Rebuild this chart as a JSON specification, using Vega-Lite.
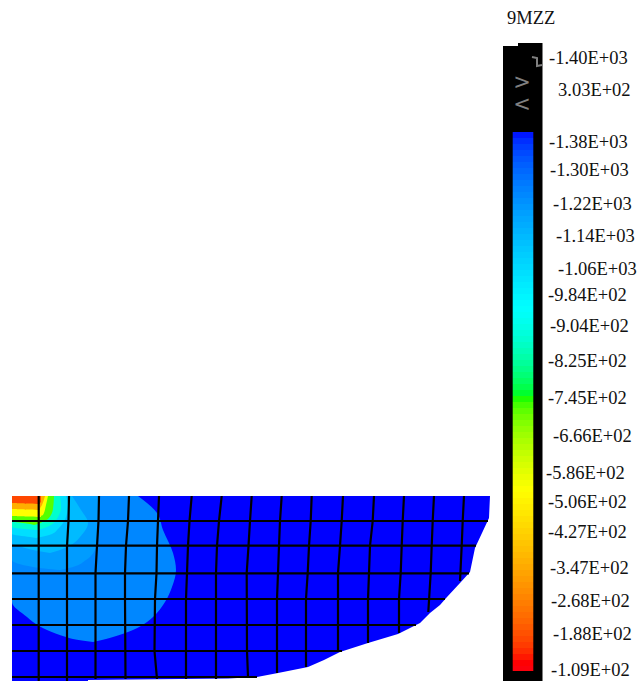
{"$schema":"https://vega.github.io/schema/vega-lite/v6.json","width":642,"height":681,"padding":0,"autosize":{"type":"none"},"background":"white","config":{"view":{"stroke":null}},
"datasets":{
"outline":[
{"b":"a0","v":-1380,"y":496,"l":12,"r":490},{"b":"a0","v":-1380,"y":518,"l":12,"r":489},{"b":"a0","v":-1380,"y":533,"l":12,"r":482},{"b":"a0","v":-1380,"y":548,"l":12,"r":475},{"b":"a0","v":-1380,"y":572,"l":12,"r":470},{"b":"a0","v":-1380,"y":583,"l":12,"r":460},{"b":"a0","v":-1380,"y":597,"l":12,"r":447},{"b":"a0","v":-1380,"y":605,"l":12,"r":440},{"b":"a0","v":-1380,"y":613,"l":12,"r":430},{"b":"a0","v":-1380,"y":623,"l":12,"r":420},{"b":"a0","v":-1380,"y":634,"l":12,"r":398},{"b":"a0","v":-1380,"y":643,"l":12,"r":368},{"b":"a0","v":-1380,"y":652,"l":12,"r":340},{"b":"a0","v":-1380,"y":660,"l":12,"r":324},{"b":"a0","v":-1380,"y":667,"l":12,"r":308},{"b":"a0","v":-1380,"y":673,"l":12,"r":278},{"b":"a0","v":-1380,"y":677,"l":12,"r":257},{"b":"a0","v":-1380,"y":678.5,"l":12,"r":228},{"b":"a0","v":-1380,"y":680,"l":12,"r":88},{"b":"a0","v":-1380,"y":681,"l":12,"r":88}
],
"contours":[
{"b":"a1","v":-1235,"y":496,"l":12,"r":138},{"b":"a1","v":-1235,"y":513,"l":12,"r":157},{"b":"a1","v":-1235,"y":530,"l":12,"r":163},{"b":"a1","v":-1235,"y":553,"l":12,"r":173},{"b":"a1","v":-1235,"y":570,"l":12,"r":176},{"b":"a1","v":-1235,"y":587,"l":12,"r":172},{"b":"a1","v":-1235,"y":602,"l":12,"r":165},{"b":"a1","v":-1235,"y":617,"l":27,"r":153},{"b":"a1","v":-1235,"y":622,"l":33,"r":147},{"b":"a1","v":-1235,"y":630,"l":47,"r":133},{"b":"a1","v":-1235,"y":637,"l":66,"r":113},{"b":"a1","v":-1235,"y":639,"l":73,"r":106},{"b":"a1","v":-1235,"y":642,"l":93,"r":93},
{"b":"a2","v":-1195,"y":496,"l":12,"r":98},{"b":"a2","v":-1195,"y":520,"l":12,"r":98},{"b":"a2","v":-1195,"y":543,"l":12,"r":97},{"b":"a2","v":-1195,"y":557,"l":12,"r":90},{"b":"a2","v":-1195,"y":560,"l":12,"r":86},{"b":"a2","v":-1195,"y":567,"l":33,"r":73},{"b":"a2","v":-1195,"y":570,"l":60,"r":60},
{"b":"a3","v":-1130,"y":496,"l":12,"r":72},{"b":"a3","v":-1130,"y":510,"l":12,"r":81},{"b":"a3","v":-1130,"y":523,"l":12,"r":88},{"b":"a3","v":-1130,"y":537,"l":12,"r":80},{"b":"a3","v":-1130,"y":543,"l":12,"r":74},{"b":"a3","v":-1130,"y":547,"l":22,"r":67},{"b":"a3","v":-1130,"y":550,"l":33,"r":60},{"b":"a3","v":-1130,"y":553,"l":50,"r":50},
{"b":"a4","v":-1050,"y":496,"l":12,"r":66},{"b":"a4","v":-1050,"y":505,"l":12,"r":68},{"b":"a4","v":-1050,"y":517,"l":12,"r":66},{"b":"a4","v":-1050,"y":529,"l":12,"r":58},{"b":"a4","v":-1050,"y":534,"l":12,"r":52},{"b":"a4","v":-1050,"y":537,"l":30,"r":41},{"b":"a4","v":-1050,"y":538,"l":36,"r":36},
{"b":"a5","v":-889,"y":496,"l":12,"r":60},{"b":"a5","v":-889,"y":507,"l":12,"r":61},{"b":"a5","v":-889,"y":517,"l":12,"r":58},{"b":"a5","v":-889,"y":525,"l":12,"r":51},{"b":"a5","v":-889,"y":527,"l":12,"r":47},{"b":"a5","v":-889,"y":530,"l":38,"r":38},
{"b":"a6","v":-728,"y":496,"l":12,"r":54},{"b":"a6","v":-728,"y":509,"l":12,"r":53},{"b":"a6","v":-728,"y":519,"l":12,"r":48},{"b":"a6","v":-728,"y":521,"l":12,"r":44},{"b":"a6","v":-728,"y":524,"l":30,"r":38},{"b":"a6","v":-728,"y":525,"l":34,"r":34},
{"b":"a7","v":-536,"y":496,"l":12,"r":48},{"b":"a7","v":-536,"y":505,"l":12,"r":46},{"b":"a7","v":-536,"y":515,"l":12,"r":43},{"b":"a7","v":-536,"y":516,"l":12,"r":41},{"b":"a7","v":-536,"y":517,"l":41,"r":41},
{"b":"a8","v":-362,"y":496,"l":12,"r":45},{"b":"a8","v":-362,"y":505,"l":12,"r":42},{"b":"a8","v":-362,"y":509,"l":12,"r":40},{"b":"a8","v":-362,"y":510,"l":40,"r":40},
{"b":"a9","v":-185,"y":496,"l":12,"r":41},{"b":"a9","v":-185,"y":502,"l":12,"r":41},{"b":"a9","v":-185,"y":503,"l":12,"r":40},{"b":"a9","v":-185,"y":504,"l":40,"r":40}
],
"hlines":[
{"n":1,"x":12,"y":521},{"n":1,"x":488,"y":521},{"n":2,"x":12,"y":545.7},{"n":2,"x":476,"y":545.7},{"n":3,"x":12,"y":573.3},{"n":3,"x":469,"y":573.3},{"n":4,"x":12,"y":599},{"n":4,"x":445,"y":599},{"n":5,"x":12,"y":625},{"n":5,"x":416,"y":625},{"n":6,"x":12,"y":651},{"n":6,"x":342,"y":651},{"n":7,"x":12,"y":677},{"n":7,"x":257,"y":677}
],
"vlines":[
{"n":1,"y":496,"x":38.7},{"n":1,"y":681,"x":38.7},
{"n":2,"y":496,"x":69},{"n":2,"y":521,"x":68.5},{"n":2,"y":546,"x":67},{"n":2,"y":681,"x":67},
{"n":3,"y":496,"x":99},{"n":3,"y":521,"x":98.5},{"n":3,"y":546,"x":97},{"n":3,"y":573,"x":95.5},{"n":3,"y":679,"x":95.5},
{"n":4,"y":496,"x":129},{"n":4,"y":521,"x":128},{"n":4,"y":546,"x":126},{"n":4,"y":573,"x":125},{"n":4,"y":599,"x":125},{"n":4,"y":679,"x":125.5},
{"n":5,"y":496,"x":159},{"n":5,"y":521,"x":158},{"n":5,"y":546,"x":157},{"n":5,"y":573,"x":156.5},{"n":5,"y":599,"x":155},{"n":5,"y":651,"x":154.5},{"n":5,"y":679,"x":157},
{"n":6,"y":496,"x":191.7},{"n":6,"y":521,"x":189.5},{"n":6,"y":546,"x":188},{"n":6,"y":573,"x":187},{"n":6,"y":599,"x":186},{"n":6,"y":679,"x":186},
{"n":7,"y":496,"x":221.7},{"n":7,"y":521,"x":219},{"n":7,"y":546,"x":217},{"n":7,"y":573,"x":216},{"n":7,"y":679,"x":216},
{"n":8,"y":496,"x":251.7},{"n":8,"y":521,"x":250},{"n":8,"y":546,"x":248.5},{"n":8,"y":573,"x":246.7},{"n":8,"y":651,"x":247},{"n":8,"y":677,"x":248},
{"n":9,"y":496,"x":281.7},{"n":9,"y":521,"x":280},{"n":9,"y":546,"x":279},{"n":9,"y":573,"x":278},{"n":9,"y":599,"x":277},{"n":9,"y":673,"x":277},
{"n":10,"y":496,"x":311.7},{"n":10,"y":521,"x":310.7},{"n":10,"y":546,"x":309},{"n":10,"y":573,"x":307.7},{"n":10,"y":599,"x":306},{"n":10,"y":667,"x":306},
{"n":11,"y":496,"x":343},{"n":11,"y":521,"x":341.7},{"n":11,"y":546,"x":340},{"n":11,"y":573,"x":338},{"n":11,"y":652,"x":338},
{"n":12,"y":496,"x":374},{"n":12,"y":521,"x":372.7},{"n":12,"y":546,"x":370},{"n":12,"y":573,"x":369},{"n":12,"y":599,"x":368},{"n":12,"y":643,"x":368},
{"n":13,"y":496,"x":404},{"n":13,"y":521,"x":402.7},{"n":13,"y":546,"x":401.7},{"n":13,"y":573,"x":400.7},{"n":13,"y":599,"x":399},{"n":13,"y":633,"x":399},
{"n":14,"y":496,"x":434},{"n":14,"y":521,"x":432.7},{"n":14,"y":546,"x":431.7},{"n":14,"y":573,"x":430.7},{"n":14,"y":612,"x":428.3},
{"n":15,"y":496,"x":464},{"n":15,"y":521,"x":462.7},{"n":15,"y":546,"x":461.7},{"n":15,"y":581,"x":460}
],
"bar":[{"a":503,"b":518,"t":46,"u":681},{"a":518,"b":542.5,"t":43,"u":681}],
"ramp":[{"v":-1373,"t":132,"u":138},{"v":-1359,"t":138,"u":144},{"v":-1345,"t":144,"u":150},{"v":-1331,"t":150,"u":156},{"v":-1316,"t":156,"u":162},{"v":-1302,"t":162,"u":168},{"v":-1288,"t":168,"u":174},{"v":-1274,"t":174,"u":180},{"v":-1260,"t":180,"u":186},{"v":-1246,"t":186,"u":192},{"v":-1232,"t":192,"u":198},{"v":-1217,"t":198,"u":204},{"v":-1203,"t":204,"u":210},{"v":-1189,"t":210,"u":216},{"v":-1175,"t":216,"u":222},{"v":-1161,"t":222,"u":228},{"v":-1147,"t":228,"u":234},{"v":-1133,"t":234,"u":240},{"v":-1118,"t":240,"u":246},{"v":-1104,"t":246,"u":252},{"v":-1090,"t":252,"u":258},{"v":-1076,"t":258,"u":264},{"v":-1062,"t":264,"u":270},{"v":-1048,"t":270,"u":276},{"v":-1034,"t":276,"u":282},{"v":-1019,"t":282,"u":288},{"v":-1005,"t":288,"u":294},{"v":-991,"t":294,"u":300},{"v":-977,"t":300,"u":306},{"v":-963,"t":306,"u":312},{"v":-949,"t":312,"u":318},{"v":-935,"t":318,"u":324},{"v":-920,"t":324,"u":330},{"v":-906,"t":330,"u":336},{"v":-892,"t":336,"u":342},{"v":-878,"t":342,"u":348},{"v":-864,"t":348,"u":354},{"v":-850,"t":354,"u":360},{"v":-836,"t":360,"u":366},{"v":-821,"t":366,"u":372},{"v":-807,"t":372,"u":378},{"v":-793,"t":378,"u":384},{"v":-779,"t":384,"u":390},{"v":-765,"t":390,"u":396},{"v":-751,"t":396,"u":402},{"v":-737,"t":402,"u":408},{"v":-723,"t":408,"u":414},{"v":-708,"t":414,"u":420},{"v":-694,"t":420,"u":426},{"v":-680,"t":426,"u":432},{"v":-666,"t":432,"u":438},{"v":-652,"t":438,"u":444},{"v":-638,"t":444,"u":450},{"v":-624,"t":450,"u":456},{"v":-609,"t":456,"u":462},{"v":-595,"t":462,"u":468},{"v":-581,"t":468,"u":474},{"v":-567,"t":474,"u":480},{"v":-553,"t":480,"u":486},{"v":-539,"t":486,"u":492},{"v":-525,"t":492,"u":498},{"v":-510,"t":498,"u":504},{"v":-496,"t":504,"u":510},{"v":-482,"t":510,"u":516},{"v":-468,"t":516,"u":522},{"v":-454,"t":522,"u":528},{"v":-440,"t":528,"u":534},{"v":-426,"t":534,"u":540},{"v":-411,"t":540,"u":546},{"v":-397,"t":546,"u":552},{"v":-383,"t":552,"u":558},{"v":-369,"t":558,"u":564},{"v":-355,"t":564,"u":570},{"v":-341,"t":570,"u":576},{"v":-327,"t":576,"u":582},{"v":-312,"t":582,"u":588},{"v":-298,"t":588,"u":594},{"v":-284,"t":594,"u":600},{"v":-270,"t":600,"u":606},{"v":-256,"t":606,"u":612},{"v":-242,"t":612,"u":618},{"v":-228,"t":618,"u":624},{"v":-213,"t":624,"u":630},{"v":-199,"t":630,"u":636},{"v":-185,"t":636,"u":642},{"v":-171,"t":642,"u":648},{"v":-157,"t":648,"u":654},{"v":-143,"t":654,"u":660},{"v":-129,"t":660,"u":666},{"v":-114,"t":666,"u":671}],
"labels":[
{"s":"9MZZ","x":507,"y":18},{"s":"-1.40E+03","x":549,"y":58},{"s":"3.03E+02","x":558,"y":90},{"s":"-1.38E+03","x":549,"y":142},{"s":"-1.30E+03","x":550,"y":170},{"s":"-1.22E+03","x":553,"y":204},{"s":"-1.14E+03","x":556,"y":236},{"s":"-1.06E+03","x":558,"y":269},{"s":"-9.84E+02","x":548,"y":295},{"s":"-9.04E+02","x":550,"y":326},{"s":"-8.25E+02","x":548,"y":361},{"s":"-7.45E+02","x":548,"y":398},{"s":"-6.66E+02","x":553,"y":436},{"s":"-5.86E+02","x":546,"y":473},{"s":"-5.06E+02","x":548,"y":502},{"s":"-4.27E+02","x":548,"y":532},{"s":"-3.47E+02","x":550,"y":568},{"s":"-2.68E+02","x":551,"y":601},{"s":"-1.88E+02","x":553,"y":634},{"s":"-1.09E+02","x":551,"y":670}
],
"glyphs":[{"s":">","x":522,"y":83},{"s":"<","x":522,"y":105}],
"hook":[{"k":1,"x":532,"y":57},{"k":2,"x":537,"y":58},{"k":3,"x":537,"y":66},{"k":4,"x":542,"y":65}]
},
"resolve":{"scale":{"color":"shared"}},
"layer":[
{"data":{"name":"outline"},"mark":{"type":"area","orient":"horizontal","interpolate":"linear"},"encoding":{
"y":{"field":"y","type":"quantitative","axis":null,"scale":{"domain":[681,0],"nice":false,"zero":false}},
"x":{"field":"l","type":"quantitative","axis":null,"scale":{"domain":[0,642],"nice":false,"zero":false}},
"x2":{"field":"r"},
"detail":{"field":"b"},
"color":{"field":"v","type":"quantitative","legend":null,"scale":{"domain":[-1380,-967,-755,-536,-135],"range":["#0000ff","#00ffff","#00ff00","#ffff00","#ff0000"]}}}},
{"data":{"name":"contours"},"mark":{"type":"area","orient":"horizontal","interpolate":"monotone"},"encoding":{
"y":{"field":"y","type":"quantitative"},
"x":{"field":"l","type":"quantitative"},
"x2":{"field":"r"},
"detail":{"field":"b"},
"color":{"field":"v","type":"quantitative","legend":null}}},
{"data":{"name":"hlines"},"mark":{"type":"line","color":"#000000","strokeWidth":2.2},"encoding":{"x":{"field":"x","type":"quantitative"},"y":{"field":"y","type":"quantitative"},"detail":{"field":"n"}}},
{"data":{"name":"vlines"},"mark":{"type":"line","color":"#000000","strokeWidth":2.2},"encoding":{"x":{"field":"x","type":"quantitative"},"y":{"field":"y","type":"quantitative"},"detail":{"field":"n"},"order":{"field":"y"}}},
{"data":{"name":"bar"},"mark":{"type":"rect","color":"#000000"},"encoding":{"x":{"field":"a","type":"quantitative"},"x2":{"field":"b"},"y":{"field":"t","type":"quantitative"},"y2":{"field":"u"}}},
{"data":{"name":"ramp"},"mark":{"type":"rect"},"encoding":{"x":{"datum":512.7},"x2":{"datum":533.3},"y":{"field":"t","type":"quantitative"},"y2":{"field":"u"},"color":{"field":"v","type":"quantitative","legend":null}}},
{"data":{"name":"hook"},"mark":{"type":"line","color":"#808080","strokeWidth":2},"encoding":{"x":{"field":"x","type":"quantitative"},"y":{"field":"y","type":"quantitative"},"order":{"field":"k"}}},
{"data":{"name":"glyphs"},"mark":{"type":"text","font":"DejaVu Sans","fontSize":21,"color":"#808080","align":"center","baseline":"middle"},"encoding":{"x":{"field":"x","type":"quantitative"},"y":{"field":"y","type":"quantitative"},"text":{"field":"s"}}},
{"data":{"name":"labels"},"mark":{"type":"text","font":"Liberation Serif","fontSize":18.5,"color":"#111111","align":"left","baseline":"middle"},"encoding":{"x":{"field":"x","type":"quantitative"},"y":{"field":"y","type":"quantitative"},"text":{"field":"s"}}}
]}
